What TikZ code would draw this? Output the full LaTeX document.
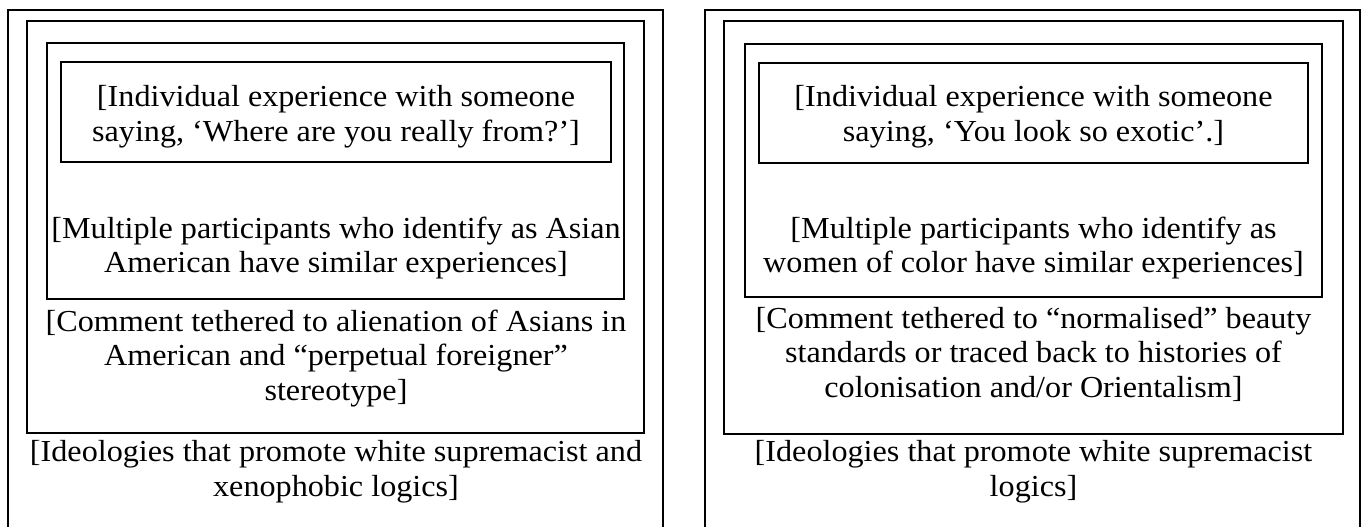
\documentclass[tikz,border=0pt]{standalone}
\usepackage{fontspec}
\setmainfont{Liberation Serif}[FakeStretch=1.055]

\begin{document}
\begin{tikzpicture}[x=1pt,y=-1pt,
    frame/.style={draw=black, line width=2.4pt},
    boxtext/.style={align=center, inner sep=0pt, font=\fontsize{30.5}{34.5}\selectfont}]

                % Page size (y counted from top)
                \def\W{1361}
                \def\H{527}
                \clip (0,0) rectangle (\W,\H);

                % Helper: frame from (x1,y1) to (x2,y2)
                \newcommand{\frameat}[4]{%
                    \draw[frame] (#1,#2) rectangle (#3,#4);
                }

                % ---- left panel ----
                \frameat{8}{10}{663}{560}
                \frameat{27}{21}{644}{433}
                \frameat{47}{43}{624}{299}
                \frameat{61}{62}{611}{162}

                \node[boxtext] (indivA) at (336,116.5)
                    {[Individual experience with someone\\saying, ‘Where are you really from?’]};
                \node[boxtext] (multiA) at (336,248)
                    {[Multiple participants who identify as Asian\\American have similar experiences]};
                \node[boxtext] (commentA) at (336,358.5)
                    {[Comment tethered to alienation of Asians in\\American and “perpetual foreigner”\\stereotype]};
                \node[boxtext] (ideoA) at (336,471.5)
                    {[Ideologies that promote white supremacist and\\xenophobic logics]};

                % ---- right panel ----
                \frameat{705}{10}{1360}{560}
                \frameat{724}{21}{1343}{434}
                \frameat{745}{44}{1322}{297}
                \frameat{759}{63}{1308}{163}

                \node[boxtext] (indivB) at (1033.5,116.5)
                    {[Individual experience with someone\\saying, ‘You look so exotic’.]};
                \node[boxtext] (multiB) at (1033.5,248)
                    {[Multiple participants who identify as\\women of color have similar experiences]};
                \node[boxtext] (commentB) at (1033.5,354)
                    {[Comment tethered to “normalised” beauty\\standards or traced back to histories of\\colonisation and/or Orientalism]};
                \node[boxtext] (ideoB) at (1033.5,471.5)
                    {[Ideologies that promote white supremacist\\logics]};

\end{tikzpicture}
\end{document}
